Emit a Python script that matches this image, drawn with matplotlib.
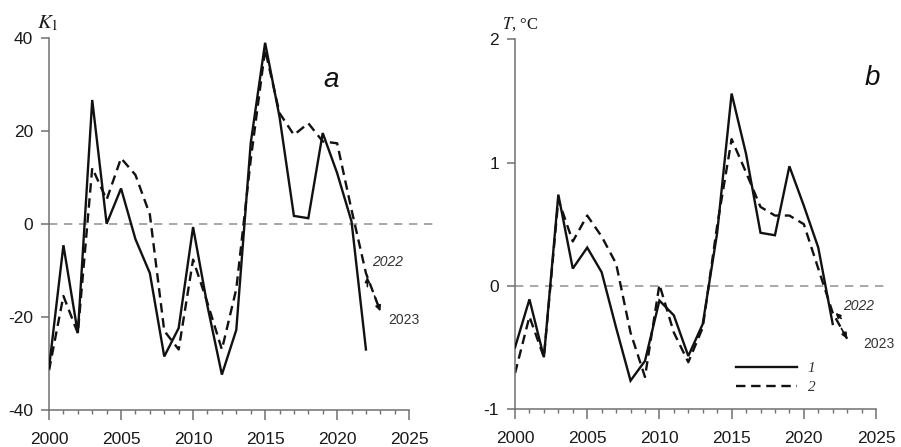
import matplotlib
matplotlib.use("Agg")
import matplotlib.pyplot as plt
import numpy as np

plt.rcParams['font.family'] = ['Liberation Sans', 'DejaVu Sans']
plt.rcParams['mathtext.fontset'] = 'stix'

# ---- data ----
years_obs = list(range(2000, 2023))
years_fc = list(range(2000, 2024))

k1_obs = [-31, -4.6, -23.5, 26.6, 0, 7.6, -3.3, -10.6, -28.5, -22.4, -0.7, -17.7,
          -32.4, -22.8, 17.3, 38.9, 23, 1.7, 1.2, 19.5, 10.9, 0.5, -27]
k1_fc = [-31.5, -15.5, -23.5, 12, 5.2, 14.1, 10.5, 2.0, -23, -27, -7.7, -17, -27,
         -14, 13.7, 37.4, 23.8, 19.1, 21.6, 17.7, 17.3, 3, -10.6, -18.8]

t_obs = [-0.5, -0.11, -0.58, 0.74, 0.14, 0.31, 0.11, -0.34, -0.77, -0.61, -0.12,
         -0.24, -0.57, -0.31, 0.43, 1.56, 1.07, 0.43, 0.41, 0.97, 0.65, 0.31, -0.31]
t_fc = [-0.71, -0.25, -0.58, 0.7, 0.36, 0.57, 0.4, 0.18, -0.38, -0.74, 0.01, -0.38,
        -0.62, -0.34, 0.49, 1.19, 0.92, 0.64, 0.57, 0.57, 0.5, 0.14, -0.22, -0.43]

x_ticks = [2000, 2005, 2010, 2015, 2020, 2025]
k1_ticks = [-40, -20, 0, 20, 40]
t_ticks = [-1, 0, 1, 2]
legend_labels = ['1', '2']

fig = plt.figure(figsize=(9.01, 4.47), dpi=100)
axa = fig.add_axes([0.0544, 0.0828, 0.4317, 0.833])
axb = fig.add_axes([0.5716, 0.085, 0.4103, 0.827])

spine_c = '#707070'
txt_c = '#1a1a1a'
solid_kw = dict(color='#111111', lw=1.7, solid_joinstyle='miter')
dash_kw = dict(color='#111111', lw=1.7, linestyle=(0, (4, 2.4)))


def style(ax, xlim, ylim, yticks):
    ax.set_xlim(*xlim)
    ax.set_ylim(*ylim)
    for s in ['top', 'right']:
        ax.spines[s].set_visible(False)
    for s in ['left', 'bottom']:
        ax.spines[s].set_color(spine_c)
        ax.spines[s].set_linewidth(1.1)
    ax.spines['bottom'].set_bounds(2000, 2025)
    ax.spines['left'].set_bounds(ylim[0], yticks[-1])
    ax.set_xticks(x_ticks)
    ax.set_xticks(range(2000, 2026), minor=True)
    ax.set_yticks(yticks)
    ax.tick_params(axis='x', which='major', direction='out', length=7.5, width=1.1,
                   color=spine_c, pad=8, labelsize=12.5, labelcolor=txt_c)
    ax.tick_params(axis='x', which='minor', direction='out', length=3, width=1.0,
                   color=spine_c)
    ax.tick_params(axis='y', which='major', direction='out', length=5.5, width=1.1,
                   color=spine_c, pad=6, labelsize=12.5, labelcolor=txt_c)
    ax.axhline(0, color='#999999', lw=1.2, linestyle=(0, (5, 4)), zorder=1)


# ---- panel a ----
style(axa, (2000, 2027), (-40, 40), k1_ticks)
axa.set_yticklabels([str(v) for v in k1_ticks])
axa.plot(years_fc, k1_fc, **dash_kw, zorder=2)
axa.plot(years_obs, k1_obs, **solid_kw, zorder=3)
axa.text(-0.032, 1.04, r'$K_1$', transform=axa.transAxes, fontsize=15,
         ha='left', va='center', color=txt_c)
axa.text(0.725, 0.886, 'a', transform=axa.transAxes, fontsize=20, style='italic',
         ha='center', va='center', color='#111111')
axa.annotate('', xy=(years_fc[-1], k1_fc[-1]),
             xytext=(years_fc[-1] - 0.4, k1_fc[-1] + 0.4 * (k1_fc[-2] - k1_fc[-1])),
             arrowprops=dict(arrowstyle='-|>', color='#111111', lw=1.2,
                             mutation_scale=8, shrinkA=0, shrinkB=0))
axa.annotate('', xy=(years_fc[-2] + 0.1, k1_fc[-2] - 0.8),
             xytext=(0, -7), textcoords='offset points',
             arrowprops=dict(arrowstyle='-|>', color='#111111', lw=1.2,
                             mutation_scale=7, shrinkA=0, shrinkB=0))
axa.text(2022.45, -8.2, '2022', fontsize=10, style='italic', ha='left',
         va='center', color='#333333')
axa.text(2023.55, -20.6, '2023', fontsize=10, ha='left', va='center',
         color='#333333')

# ---- panel b ----
style(axb, (2000, 2025.6), (-1, 2), t_ticks)
axb.set_yticklabels([str(v) for v in t_ticks])
axb.plot(years_fc, t_fc, **dash_kw, zorder=2, label=legend_labels[1])
axb.plot(years_obs, t_obs, **solid_kw, zorder=3, label=legend_labels[0])
axb.text(-0.034, 1.04, r'$T$, °C', transform=axb.transAxes, fontsize=12,
         family=['Liberation Serif'], ha='left', va='center', color=txt_c)
axb.text(0.966, 0.895, 'b', transform=axb.transAxes, fontsize=20, style='italic',
         ha='center', va='center', color='#111111')
axb.annotate('', xy=(years_fc[-1], t_fc[-1]),
             xytext=(years_fc[-1] - 0.4, t_fc[-1] + 0.4 * (t_fc[-2] - t_fc[-1])),
             arrowprops=dict(arrowstyle='-|>', color='#111111', lw=1.2,
                             mutation_scale=8, shrinkA=0, shrinkB=0))
axb.annotate('', xy=(years_fc[-2] + 0.2, t_fc[-2]),
             xytext=(4, -4), textcoords='offset points',
             arrowprops=dict(arrowstyle='-|>', color='#111111', lw=1.2,
                             mutation_scale=7, shrinkA=0, shrinkB=0))
axb.text(2022.7, -0.165, '2022', fontsize=10, style='italic', ha='left',
         va='center', color='#333333')
axb.text(2024.1, -0.47, '2023', fontsize=10, ha='left', va='center',
         color='#333333')

h, l = axb.get_legend_handles_labels()
leg = axb.legend([h[1], h[0]], [l[1], l[0]], loc='upper left',
                 bbox_to_anchor=(0.597, 0.128), frameon=False, handlelength=4.0,
                 handletextpad=0.7, labelspacing=0.35, borderpad=0,
                 borderaxespad=0,
                 prop={'family': 'Liberation Serif', 'style': 'italic', 'size': 11})
for t in leg.get_texts():
    t.set_color('#333333')

fig.savefig('out.png', dpi=100)
